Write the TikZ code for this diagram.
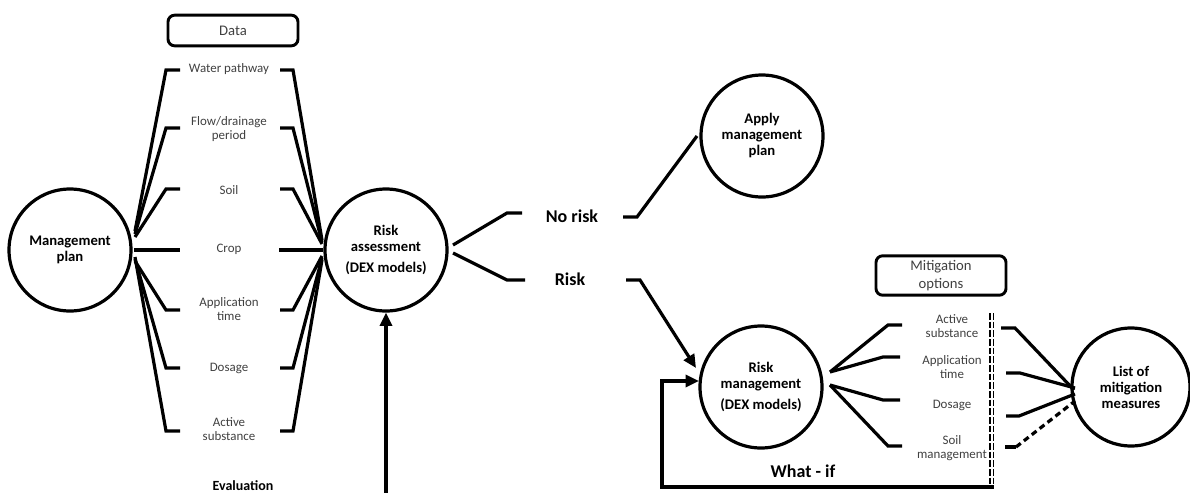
\documentclass[tikz,border=0pt]{standalone}
\usepackage{fontspec}
\setmainfont{Carlito}
\usetikzlibrary{arrows.meta,calc}
\definecolor{labelgray}{HTML}{404040}
\tikzset{
  bubble/.style={circle,draw,line width=2.4pt,minimum size=91.5pt,inner sep=0pt,align=center,
    font=\fontsize{11}{12}\selectfont\bfseries},
  item/.style={align=center,text=labelgray,inner sep=1pt,font=\fontsize{9.7}{10.5}\selectfont},
  tag/.style={draw,rounded corners=5pt,line width=2.2pt,align=center,text=labelgray,
    font=\fontsize{11}{13}\selectfont,minimum width=97.5pt},
  link/.style={line width=2.4pt},
  outcome/.style={inner sep=1pt,font=\fontsize{13.5}{16}\selectfont\bfseries},
  tip/.style={-{Triangle[length=10pt,width=9pt]}},
  guide/.style={line width=1pt,dash pattern=on 5pt off 1.5pt},
  optlink/.style={line width=2.4pt,dash pattern=on 4.5pt off 3pt},
}
\begin{document}
\begin{tikzpicture}[x=0.75pt,y=-0.75pt]
\useasboundingbox (0,0) rectangle (1190,493);

% ---------- assessment stage ----------
\node[bubble] (mp) at (70,250) {Management\\plan};
\node[bubble] (ra) at (386,250) {Risk\\assessment\\[4pt](DEX models)};
\node[tag,minimum height=23pt] (data) at (233,30.5) {Data};

\node[item] (wp) at (229,69)  {Water pathway};
\node[item] (fd) at (229,129) {Flow/drainage\\period};
\node[item] (so) at (229,190) {Soil};
\node[item] (cr) at (229,249) {Crop};
\node[item] (at) at (229,309) {Application\\time};
\node[item] (do) at (229,368) {Dosage};
\node[item] (as) at (229,429) {Active\\substance};

% data items: bracket stubs joined to both circles
\foreach \n/\y/\ly/\ry in {wp/70/231/240, fd/128/234/242, so/189/237/244,
                           at/310/261/256, do/368/259/258, as/431/257/260}{
  \coordinate (\n-li) at (180,\y);
  \coordinate (\n-lo) at (166,\y);
  \coordinate (\n-ri) at (280,\y);
  \coordinate (\n-ro) at (293,\y);
  \coordinate (\n-lc) at (135,\ly);
  \coordinate (\n-rc) at (322,\ry);
  \draw[link] (\n-li) -- (\n-lo) -- (\n-lc);
  \draw[link] (\n-ri) -- (\n-ro) -- (\n-rc);
}
\coordinate (cr-lc) at (134,250);
\coordinate (cr-li) at (180,250);
\coordinate (cr-ri) at (279,250);
\coordinate (cr-rc) at (323,250);
\draw[link] (cr-lc) -- (cr-li);
\draw[link] (cr-ri) -- (cr-rc);

% evaluation feedback
\node[inner sep=1pt,font=\fontsize{10.5}{12}\selectfont\bfseries] (ev) at (243,486) {Evaluation};
\coordinate (evfoot) at (386,493);
\draw[link,tip] (evfoot) -- (ra.south);

% ---------- outcomes ----------
\node[outcome] (nr) at (572,216) {No risk};
\node[outcome] (rk) at (570,279) {Risk};
\node[bubble] (ap) at (762,136) {Apply\\management\\plan};

\coordinate (nr-a) at (453,245);
\coordinate (nr-b) at (507,213);
\coordinate (nr-c) at (522,213);
\coordinate (nr-d) at (623,217);
\coordinate (nr-e) at (637,217);
\coordinate (ap-in) at (697,136);
\draw[link] (nr-a) -- (nr-b) -- (nr-c);
\draw[link] (nr-d) -- (nr-e) -- (ap-in);

\coordinate (rk-a) at (453,253);
\coordinate (rk-b) at (507,280);
\coordinate (rk-c) at (525,280);
\coordinate (rk-d) at (626,280);
\coordinate (rk-e) at (640,280);
\coordinate (rm-in) at (696,368);
\draw[link] (rk-a) -- (rk-b) -- (rk-c);
\draw[link,tip] (rk-d) -- (rk-e) -- (rm-in);

% ---------- management stage ----------
\node[bubble] (rm) at (761,387) {Risk\\management\\[4pt](DEX models)};
\node[bubble,minimum size=88.5pt] (lm) at (1131,387) {List of\\mitigation\\measures};
\node[tag,minimum height=27pt,font=\fontsize{11}{13.5}\selectfont] (mo) at (941,275.5) {Mitigation\\options};

\node[item] (as2) at (952,326) {Active\\substance};
\node[item] (at2) at (952,367) {Application\\time};
\node[item] (do2) at (952,405) {Dosage};
\node[item] (sm2) at (952,448) {Soil\\management};

% branches out of risk management
\coordinate (rm-u) at (830,372);
\coordinate (rm-l) at (830,385);
\foreach \n/\s/\bx/\by/\ex in {as2/u/888/325/902, at2/u/883/357/900,
                              do2/l/883/400/900, sm2/l/888/446/902}{
  \coordinate (\n-b) at (\bx,\by);
  \coordinate (\n-e) at (\ex,\by);
  \draw[link] (rm-\s) -- (\n-b) -- (\n-e);
}

% double dashed separator
\coordinate (sep1t) at (990,313);
\coordinate (sep1b) at (990,486);
\coordinate (sep2t) at (993.5,313);
\coordinate (sep2b) at (993.5,486);
\draw[guide] (sep1t) -- (sep1b);
\draw[guide] (sep2t) -- (sep2b);

% options joined to the list of measures
\foreach \n/\sx/\sy/\tx/\tey/\ey in {as2/1001/328/1015/1074/390, at2/1006/373/1020/1075/388,
                                      do2/1006/416/1019/1075/394}{
  \coordinate (\n-s) at (\sx,\sy);
  \coordinate (\n-t) at (\tx,\sy);
  \coordinate (\n-m) at (\tey,\ey);
  \draw[link] (\n-s) -- (\n-t) -- (\n-m);
}
\coordinate (sm2-s) at (1005,447);
\coordinate (sm2-t) at (1016,447);
\coordinate (sm2-m) at (1075,401);
\draw[link] (sm2-s) -- (sm2-t);
\draw[optlink] (sm2-t) -- (sm2-m);

% what-if loop
\node[outcome] (wi) at (803,471) {What - if};
\coordinate (wi-a) at (993.5,487);
\coordinate (wi-b) at (662,487);
\coordinate (wi-c) at (662,381);
\coordinate (wi-d) at (699,381);
\draw[link,tip] (wi-a) -- (wi-b) -- (wi-c) -- (wi-d);
\end{tikzpicture}
\end{document}
